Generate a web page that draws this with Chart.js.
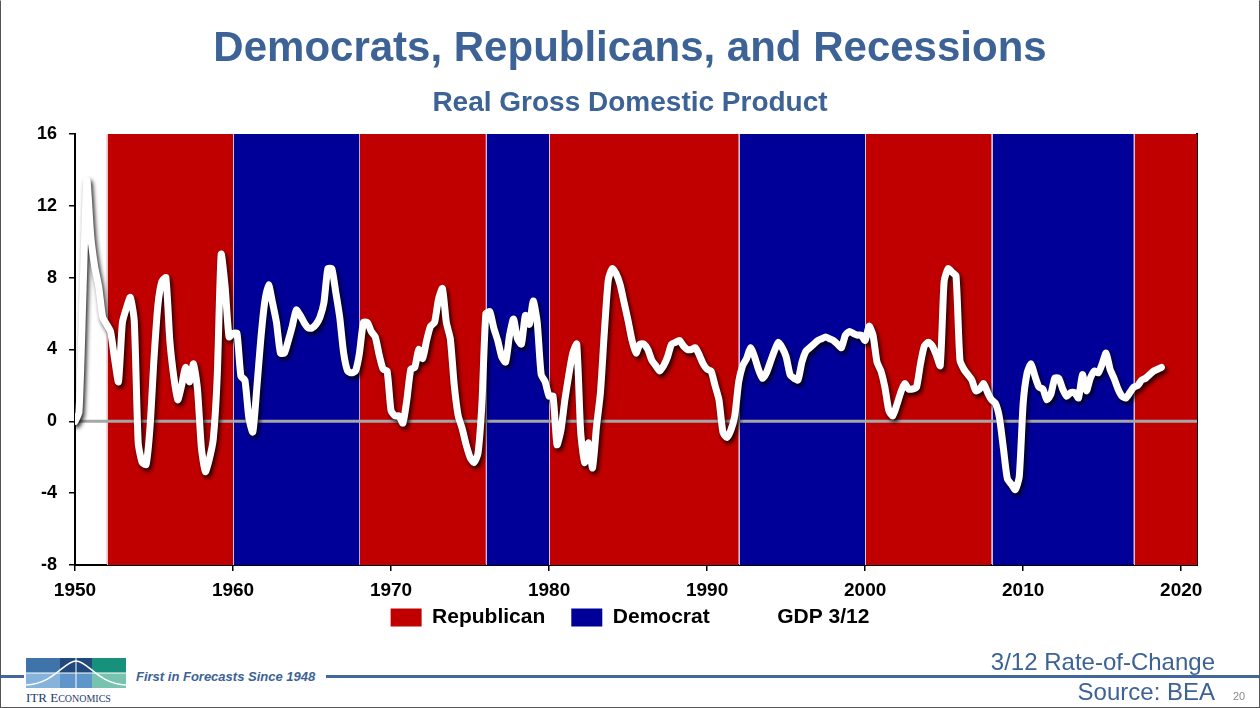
<!DOCTYPE html>
<html>
<head>
<meta charset="utf-8">
<title>Democrats, Republicans, and Recessions</title>
<script src="https://cdn.jsdelivr.net/npm/chart.js@4.4.1/dist/chart.umd.min.js"></script>
<style>
  html, body { margin: 0; padding: 0; background: #fff; }
  #slide { position: relative; width: 1260px; height: 708px; overflow: hidden; font-family: "Liberation Sans", Arial, sans-serif; }
  #chart { position: absolute; left: 0; top: 0; }
  #frame { position: absolute; left: 0; top: 0; width: 1258px; height: 706px; border: 1px solid #555; border-top-color: #fff; pointer-events: none; }
  #rule { position: absolute; left: 0; top: 675px; width: 1260px; height: 3px; background: #41679b; }
  #tagline { position: absolute; left: 128px; top: 666px; width: 198px; height: 22px; background: #fff; color: #3c6296; font-style: italic; font-weight: bold; font-size: 13px; line-height: 22px; padding-left: 8px; box-sizing: border-box; }
  #logo { position: absolute; left: 24px; top: 658px; width: 106px; height: 48px; background: #fff; }
  #logo .brand { position: absolute; left: 2px; top: 32px; font-family: "Liberation Serif", "DejaVu Serif", serif; font-size: 13px; color: #1d3a6b; }
  #logo .brand small { font-size: 10px; }
  .note { position: absolute; right: 45px; color: #3c6296; font-size: 24px; line-height: 28px; }
  #roc { top: 648px; }
  #src { top: 678px; }
  #pg { position: absolute; left: 1233px; top: 690px; font-size: 11px; color: #8a8a8a; }
</style>
</head>
<body>
<div id="slide">
  <canvas id="chart" width="1260" height="708"></canvas>
  <div id="rule"></div>
  <div id="logo">
    <svg width="104" height="30" viewBox="0 0 104 30">
      <rect x="2" y="0" width="34" height="15" fill="#3f74ab"/>
      <rect x="36" y="0" width="32" height="15" fill="#21497c"/>
      <rect x="68" y="0" width="34" height="15" fill="#17907c"/>
      <rect x="2" y="15" width="34" height="15" fill="#86b3db"/>
      <rect x="36" y="15" width="32" height="15" fill="#5f96c9"/>
      <rect x="68" y="15" width="34" height="15" fill="#78c2b0"/>
      <path d="M2 27 C 30 26, 40 3, 52 3 C 64 3, 74 26, 102 27" stroke="#fff" stroke-width="1.5" fill="none"/>
      <line x1="2" y1="15" x2="102" y2="15" stroke="#fff" stroke-width="1"/>
      <line x1="52" y1="0" x2="52" y2="30" stroke="#fff" stroke-width="1"/>
    </svg>
    <div class="brand">ITR E<small>CONOMICS</small></div>
  </div>
  <div id="tagline">First in Forecasts Since 1948</div>
  <div class="note" id="roc">3/12 Rate-of-Change</div>
  <div class="note" id="src">Source: BEA</div>
  <div id="pg">20</div>
  <div id="frame"></div>
</div>

<script>
// GDP 3/12 rate-of-change, one value per quarter starting 1950 Q1
const gdpStartYear = 1950;
const gdpValues = [
  0, 0.5, 7.0, 13.4,      // 1950
  10.3, 8.6, 7.5, 5.8,    // 1951
  5.4, 5.0, 3.5, 2.2,     // 1952
  5.5, 6.3, 6.9, 5.6,     // 1953
  -1.2, -2.3, -2.4, -0.3, // 1954
  3.5, 6.5, 7.8, 8.0,     // 1955
  4.5, 2.5, 1.2, 2.0,     // 1956
  3.0, 2.2, 3.2, 1.8,     // 1957
  -1.5, -2.8, -2.1, -1.0, // 1958
  2.5, 9.3, 7.5, 4.7,     // 1959
  4.9, 4.9, 2.5, 2.3,     // 1960
  0.2, -0.6, 1.8, 4.5,    // 1961
  6.6, 7.6, 6.6, 5.5,     // 1962
  3.8, 3.8, 4.5, 5.3,     // 1963
  6.2, 5.9, 5.5, 5.2,     // 1964
  5.2, 5.4, 5.8, 6.6,     // 1965
  8.5, 8.5, 7.2, 5.8,     // 1966
  3.8, 2.8, 2.7, 2.8,     // 1967
  3.8, 5.5, 5.5, 5.0,     // 1968
  4.7, 3.7, 2.9, 2.8,     // 1969
  0.6, 0.3, 0.3, -0.1,    // 1970
  1.2, 2.9, 3.0, 4.0,     // 1971
  3.5, 4.5, 5.3, 5.5,     // 1972
  6.8, 7.4, 5.5, 4.6,     // 1973
  2.0, 0.3, -0.4, -1.3,   // 1974
  -2.0, -2.3, -1.8, 1.0,  // 1975
  6.0, 6.1, 5.2, 4.5,     // 1976
  3.6, 3.3, 4.8, 5.7,     // 1977
  4.6, 4.3, 5.9, 5.4,     // 1978
  6.7, 5.5, 2.6, 2.2,     // 1979
  1.4, 1.4, -1.3, -0.5,   // 1980
  1.2, 2.6, 3.8, 4.3,     // 1981
  -0.6, -2.3, -1.2, -2.6, // 1982
  -0.3, 1.6, 5.0, 7.9,    // 1983
  8.5, 8.2, 7.6, 6.6,     // 1984
  5.6, 4.5, 3.8, 4.3,     // 1985
  4.3, 4.0, 3.4, 3.1,     // 1986
  2.8, 3.1, 3.6, 4.3,     // 1987
  4.4, 4.5, 4.2, 4.0,     // 1988
  4.0, 4.1, 3.7, 3.2,     // 1989
  2.9, 2.8, 2.0, 1.2,     // 1990
  -0.6, -0.9, -0.5, 0.3,  // 1991
  2.2, 3.1, 3.5, 4.1,     // 1992
  3.6, 2.9, 2.4, 2.7,     // 1993
  3.3, 3.9, 4.4, 4.1,     // 1994
  3.6, 2.6, 2.4, 2.3,     // 1995
  3.3, 3.9, 4.1, 4.3,     // 1996
  4.5, 4.6, 4.7, 4.6,     // 1997
  4.5, 4.3, 4.1, 4.8,     // 1998
  5.0, 4.9, 4.8, 4.8,     // 1999
  4.5, 5.3, 4.8, 3.3,     // 2000
  2.8, 1.9, 0.6, 0.3,     // 2001
  0.9, 1.6, 2.1, 1.8,     // 2002
  1.8, 1.9, 3.2, 4.2,     // 2003
  4.4, 4.2, 3.7, 3.1,     // 2004
  7.8, 8.5, 8.3, 8.1,     // 2005
  3.4, 2.9, 2.6, 2.3,     // 2006
  1.7, 1.8, 2.1, 1.6,     // 2007
  1.2, 1.0, 0.2, -1.5,    // 2008
  -3.2, -3.5, -3.8, -3.1, // 2009
  1.0, 2.7, 3.2, 2.5,     // 2010
  1.9, 1.8, 1.2, 1.5,     // 2011
  2.4, 2.4, 1.8, 1.4,     // 2012
  1.6, 1.6, 1.3, 2.6,     // 2013
  1.7, 2.4, 2.8, 2.7,     // 2014
  3.2, 3.8, 2.9, 2.4,     // 2015
  1.8, 1.4, 1.3, 1.6,     // 2016
  1.9, 2.0, 2.3, 2.4,     // 2017
  2.6, 2.8, 2.9, 3.0      // 2018
];

// presidential terms shown as background bands
const termStart = [1952, 1960, 1968, 1976, 1980, 1992, 2000, 2008, 2017];
const termEnd   = [1960, 1968, 1976, 1980, 1992, 2000, 2008, 2017, 2021];
const termParty = ['Republican', 'Democrat', 'Republican', 'Democrat', 'Republican',
                   'Democrat', 'Republican', 'Democrat', 'Republican'];

const xTickValues = [1950, 1960, 1970, 1980, 1990, 2000, 2010, 2020];
const yTickValues = [-8, -4, 0, 4, 8, 12, 16];
const xMin = 1950, xMax = 2021, yMin = -8, yMax = 16;

const RED = '#c00000';
const BLUE = '#000099';
const TITLE_BLUE = '#3c6296';
const partyColor = { Republican: RED, Democrat: BLUE };
const FONT = 'Liberation Sans';

// bands: a flat line at the top, filled down to the bottom of the axis
const bandSets = termStart.map((s, i) => ({
  label: termParty[i],
  data: [{ x: s, y: yMax }, { x: termEnd[i], y: yMax }],
  backgroundColor: partyColor[termParty[i]],
  borderColor: 'transparent',
  borderWidth: 0,
  pointRadius: 0,
  fill: { value: yMin },
  order: 3,
  isBand: true
}));

const zeroLine = {
  label: 'zero',
  data: [{ x: xMin, y: 0 }, { x: xMax, y: 0 }],
  borderColor: '#a6a6a6',
  borderWidth: 3,
  pointRadius: 0,
  fill: false,
  order: 2
};

const gdpSet = {
  label: 'GDP 3/12',
  data: gdpValues.map((v, i) => ({ x: gdpStartYear + i / 4, y: v })),
  borderColor: '#ffffff',
  borderWidth: 7,
  pointRadius: 0,
  tension: 0.2,
  borderJoinStyle: 'round',
  borderCapStyle: 'round',
  fill: false,
  order: 1
};

// drop shadow under the GDP line, thin light seams between the bands,
// and the legend pulled up closer to the axis labels
const decorPlugin = {
  id: 'decor',
  afterLayout(chart) {
    const lg = chart.legend;
    if (lg) { lg.top -= 18; lg.bottom -= 18; }
  },
  beforeDatasetDraw(chart, args) {
    if (chart.data.datasets[args.index] === gdpSet) {
      const c = chart.ctx;
      c.save();
      c.shadowColor = 'rgba(0,0,0,0.85)';
      c.shadowBlur = 4;
      c.shadowOffsetX = 2;
      c.shadowOffsetY = 3;
    }
  },
  afterDatasetDraw(chart, args) {
    const ds = chart.data.datasets[args.index];
    if (ds === gdpSet) {
      chart.ctx.restore();
    } else if (ds.isBand) {
      const c = chart.ctx, a = chart.chartArea;
      const px = Math.round(chart.scales.x.getPixelForValue(ds.data[0].x)) + 0.5;
      c.save();
      c.strokeStyle = 'rgba(235,225,235,0.85)';
      c.lineWidth = 1;
      c.beginPath();
      c.moveTo(px, a.top);
      c.lineTo(px, a.bottom);
      c.stroke();
      c.restore();
    }
  }
};

new Chart(document.getElementById('chart'), {
  type: 'line',
  data: { datasets: [gdpSet, zeroLine, ...bandSets] },
  plugins: [decorPlugin],
  options: {
    responsive: false,
    animation: false,
    layout: { padding: { top: 0, left: 0, right: 0, bottom: 52 } },
    plugins: {
      title: {
        display: true,
        text: 'Democrats, Republicans, and Recessions',
        color: TITLE_BLUE,
        font: { family: FONT, size: 42, weight: 'bold', lineHeight: 1.2 },
        padding: { top: 24, bottom: 0 }
      },
      subtitle: {
        display: true,
        text: 'Real Gross Domestic Product',
        color: TITLE_BLUE,
        font: { family: FONT, size: 28, weight: 'bold', lineHeight: 1.2 },
        padding: { top: 12, bottom: 14 }
      },
      legend: {
        position: 'bottom',
        onClick: null,
        labels: {
          boxWidth: 31,
          boxHeight: 18,
          padding: 26,
          color: '#000',
          font: { family: FONT, size: 21, weight: 'bold' },
          generateLabels: () => [
            { text: 'Republican', fillStyle: RED, strokeStyle: RED, lineWidth: 0, hidden: false },
            { text: 'Democrat', fillStyle: BLUE, strokeStyle: BLUE, lineWidth: 0, hidden: false },
            { text: 'GDP 3/12', fillStyle: '#ffffff', strokeStyle: '#ffffff', lineWidth: 0, hidden: false }
          ]
        }
      },
      tooltip: { enabled: false }
    },
    scales: {
      x: {
        type: 'linear',
        min: xMin,
        max: xMax,
        afterBuildTicks: s => { s.ticks = xTickValues.map(v => ({ value: v })); },
        afterFit: s => { s.height = 34; },
        ticks: {
          callback: v => String(v),
          color: '#000',
          padding: 8,
          maxRotation: 0,
          font: { family: FONT, size: 19, weight: 'bold' }
        },
        grid: { display: true, drawOnChartArea: false, drawTicks: true, tickLength: 6, color: '#000', lineWidth: 1.5 },
        border: { display: true, color: '#000', width: 2 }
      },
      y: {
        min: yMin,
        max: yMax,
        afterBuildTicks: s => { s.ticks = yTickValues.map(v => ({ value: v })); },
        afterFit: s => { s.width = 75; },
        ticks: {
          color: '#000',
          padding: 12,
          font: { family: FONT, size: 18, weight: 'bold' }
        },
        grid: { display: true, drawOnChartArea: false, drawTicks: true, tickLength: 6, color: '#000', lineWidth: 1.5 },
        border: { display: true, color: '#000', width: 2 }
      },
      yRight: {
        position: 'right',
        min: yMin,
        max: yMax,
        afterFit: s => { s.width = 63; },
        ticks: { display: false },
        grid: { display: false },
        border: { display: true, color: '#000', width: 2 }
      }
    }
  }
});
</script>
</body>
</html>
